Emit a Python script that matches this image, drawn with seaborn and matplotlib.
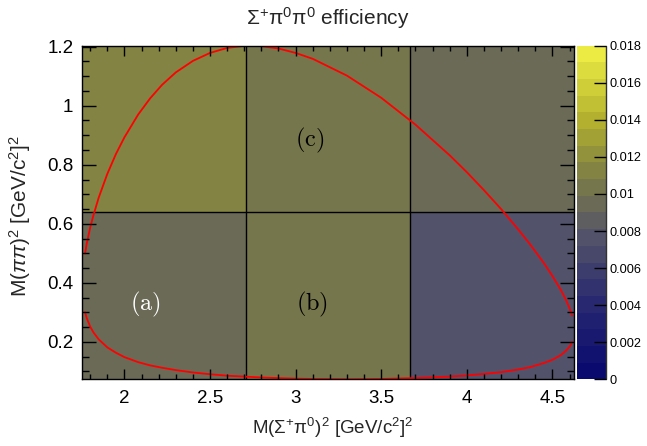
import numpy as np
import pandas as pd
import matplotlib
matplotlib.use("Agg")
import matplotlib.pyplot as plt
from matplotlib.colors import LinearSegmentedColormap, ListedColormap
from matplotlib.ticker import MultipleLocator, FuncFormatter
import seaborn as sns

sns.set_style("ticks")
plt.rcParams["font.family"] = ["Liberation Sans", "DejaVu Sans"]
plt.rcParams["mathtext.fontset"] = "custom"
plt.rcParams["mathtext.rm"] = "Liberation Sans"
plt.rcParams["mathtext.it"] = "Liberation Sans:italic"
plt.rcParams["mathtext.default"] = "regular"

# bin edges of the efficiency map (Dalitz plot limits)
x_edges = [1.7539, 2.7122, 3.6706, 4.6289]
y_edges = [0.0729, 0.6383, 1.2036]

# efficiency per bin: rows = M(pipi)^2 bins (low, high), columns = M(Sigma pi)^2 bins
eff = [[0.0095, 0.0103, 0.0077],
       [0.0112, 0.0104, 0.0094]]

# Dalitz boundary
bnd_x = [1.77, 1.78, 1.80, 1.82, 1.85, 1.90, 1.95, 2.00, 2.08, 2.15, 2.22, 2.30, 2.40,
         2.50, 2.60, 2.70, 2.80, 2.90, 3.00, 3.10, 3.30, 3.50, 3.70, 3.90, 4.00, 4.10,
         4.20, 4.30, 4.37, 4.45, 4.50, 4.55, 4.58, 4.60, 4.615]
bnd_lo = [0.300, 0.280, 0.251, 0.231, 0.208, 0.181, 0.163, 0.148, 0.131, 0.120, 0.112,
          0.104, 0.096, 0.090, 0.085, 0.082, 0.079, 0.077, 0.075, 0.074, 0.073, 0.074,
          0.077, 0.082, 0.086, 0.091, 0.097, 0.106, 0.114, 0.128, 0.139, 0.155, 0.170,
          0.183, 0.199]
bnd_hi = [0.499, 0.533, 0.587, 0.631, 0.689, 0.769, 0.836, 0.893, 0.970, 1.025, 1.071,
          1.113, 1.152, 1.179, 1.196, 1.203, 1.202, 1.194, 1.179, 1.159, 1.102, 1.027,
          0.936, 0.832, 0.775, 0.714, 0.650, 0.581, 0.530, 0.467, 0.423, 0.375, 0.341,
          0.314, 0.289]

# region labels
region_text = ["(a)", "(b)", "(c)"]
region_x = [2.12, 3.094, 3.085]
region_y = [0.325, 0.325, 0.882]
region_col = ["white", "black", "black"]

# table for seaborn: one entry per bin centre, weighted by the efficiency
rows = []
for j in range(len(y_edges) - 1):
    for i in range(len(x_edges) - 1):
        rows.append(((x_edges[i] + x_edges[i + 1]) / 2,
                     (y_edges[j] + y_edges[j + 1]) / 2, eff[j][i]))
df = pd.DataFrame(rows, columns=["msp", "mpp", "eff"])

# navy -> grey -> yellow palette, 20 contour levels
base = LinearSegmentedColormap.from_list("root", [
    (0.0, "#06066e"), (0.225, "#282870"), (0.425, "#52526a"), (0.525, "#6a6a57"),
    (0.625, "#828243"), (0.775, "#b2b02e"), (1.0, "#f2f246")])
cmap = ListedColormap(base(np.linspace(0.025, 0.975, 20)))

fig = plt.figure(figsize=(6.47, 4.46), dpi=100)
ax = fig.add_axes([0.1272, 0.1496, 0.7607, 0.7480])
cax = fig.add_axes([0.8918, 0.1496, 0.0456, 0.7480])

sns.histplot(data=df, x="msp", y="mpp", weights="eff", bins=[x_edges, y_edges],
             cmap=cmap, vmin=0, vmax=0.018, cbar=True, cbar_ax=cax, ax=ax)
ax.set_axisbelow(False)
cax.set_axisbelow(False)

# bin borders
for xe in x_edges[1:-1]:
    ax.axvline(xe, color="black", lw=1.0)
for ye in y_edges[1:-1]:
    ax.axhline(ye, color="black", lw=1.0)

# kinematic boundary
sns.lineplot(x=bnd_x, y=bnd_lo, sort=False, estimator=None, color="red", lw=1.3, ax=ax)
sns.lineplot(x=bnd_x, y=bnd_hi, sort=False, estimator=None, color="red", lw=1.3, ax=ax)

for t, xx, yy, c in zip(region_text, region_x, region_y, region_col):
    ax.text(xx, yy, "$\\mathrm{" + t + "}$", math_fontfamily="cm", fontsize=17.5,
            color=c, ha="center", va="center")

ax.set_xlim(x_edges[0], x_edges[-1])
ax.set_ylim(y_edges[0], y_edges[-1])
fmt = FuncFormatter(lambda v, p: f"{v:g}")
ax.xaxis.set_major_locator(MultipleLocator(0.5))
ax.xaxis.set_minor_locator(MultipleLocator(0.1))
ax.yaxis.set_major_locator(MultipleLocator(0.2))
ax.yaxis.set_minor_locator(MultipleLocator(0.05))
ax.xaxis.set_major_formatter(fmt)
ax.yaxis.set_major_formatter(fmt)
ax.tick_params(which="both", direction="in", top=True, right=True, width=1, colors="black",
               labelsize=13.5)
ax.tick_params(axis="x", which="major", length=7.2, pad=7.5)
ax.tick_params(axis="x", which="minor", length=3.6)
ax.tick_params(axis="y", which="major", length=10, pad=6.5)
ax.tick_params(axis="y", which="minor", length=5)
for s in ax.spines.values():
    s.set_visible(True)
    s.set_linewidth(1)
    s.set_color("black")

ax.set_xlabel("$M(\\Sigma^{+}\\pi^{0})^{2}$ [GeV/$c^{2}$]$^{2}$", fontsize=13.5)
ax.set_ylabel("$M(\\mathit{\\pi\\pi})^{2}$ [GeV/$c^{2}$]$^{2}$", fontsize=15)
ax.xaxis.label.set_va("center")
ax.yaxis.label.set_va("center")
ax.xaxis.set_label_coords(0.509, -0.146)
ax.yaxis.set_label_coords(-0.127, 0.49)

fig.text(328 / 647, 1 - 18 / 446, "$\\Sigma^{+}\\pi^{0}\\pi^{0}$ efficiency",
         fontsize=15, ha="center", va="center")

# colour scale
cb = ax.collections[0].colorbar
cb.set_ticks(np.arange(0, 0.0181, 0.002))
cb.ax.yaxis.set_major_formatter(fmt)
cb.ax.minorticks_off()
cb.outline.set_visible(False)
cax.yaxis.set_ticks_position("right")
cax.tick_params(direction="in", length=9, width=1, labelsize=9.2, pad=2, colors="black")
cax.plot([1, 1], [0, 1], transform=cax.transAxes, color="#333333", lw=1, clip_on=False)

fig.savefig("out.png", dpi=100)
